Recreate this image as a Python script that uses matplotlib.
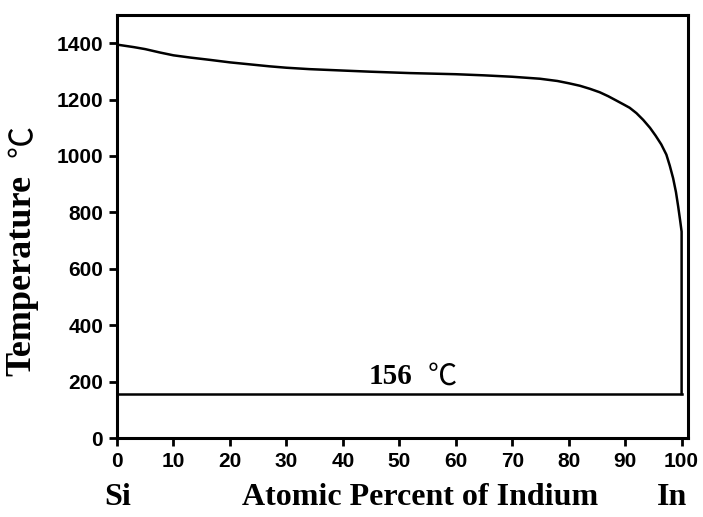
import matplotlib
matplotlib.use("Agg")
import matplotlib.pyplot as plt

# Liquidus curve (Si-In)
liq_x = [0, 3, 5, 7.6, 10, 13, 16.4, 20, 23.5, 27, 30, 34.1, 40, 44.8, 51.9, 56, 60,
         65, 70, 74.9, 78, 80, 82, 83.8, 85.5, 87, 88.5, 89.8, 90.8, 92, 93.2,
         94.4, 95.4, 96.4, 97.3, 97.9, 98.5, 99.0, 99.4, 99.75, 100.0, 100.0]
liq_t = [1395, 1386, 1379, 1367, 1357, 1349, 1341, 1332, 1325, 1318, 1313, 1308,
         1303, 1299, 1294, 1292, 1290, 1286, 1281, 1274, 1266, 1258, 1249, 1238,
         1226, 1212, 1196, 1182, 1171, 1152, 1128, 1100, 1072, 1041, 1005, 966,
         921, 872, 820, 770, 732, 156]
eut_x = [0, 100]
eut_t = [156, 156]

xticks = list(range(0, 101, 10))
yticks = list(range(0, 1401, 200))

fig = plt.figure(figsize=(7.03, 5.17), dpi=100)
ax = fig.add_axes([0.1664, 0.1528, 0.812, 0.8182])
ax.plot(liq_x, liq_t, color="black", lw=1.8, solid_joinstyle="round")
ax.plot(eut_x, eut_t, color="black", lw=1.8)
ax.set_xlim(0, 101.1)
ax.set_ylim(0, 1500)
ax.set_xticks(xticks)
ax.set_yticks(yticks)
for s in ax.spines.values():
    s.set_linewidth(2.2)
ax.tick_params(width=2, length=6, direction="out", pad=4)
for lab in ax.get_xticklabels() + ax.get_yticklabels():
    lab.set_family("Liberation Sans")
    lab.set_fontweight("bold")
    lab.set_fontsize(15)

serif = "Liberation Serif"
cjk = ["Noto Sans CJK SC", "DejaVu Sans"]
ax.text(44.6, 190, "156", family=serif, fontweight="bold", fontsize=21,
        ha="left", va="baseline")
ax.text(55.0, 190, "℃", family=cjk, fontweight="light",
        fontsize=21, ha="left", va="baseline")

fig.text(118/703, 1-505/517, "Si", family=serif, fontweight="bold", fontsize=23,
         ha="center", va="baseline")
fig.text(420/703, 1-505/517, "Atomic Percent of Indium", family=serif, fontweight="bold",
         fontsize=23, ha="center", va="baseline")
fig.text(672/703, 1-505/517, "In", family=serif, fontweight="bold", fontsize=23,
         ha="center", va="baseline")

fig.text(38/703, 1-275/517, "Temperature", family=serif, fontweight="bold", fontsize=26,
         rotation=90, ha="right", va="center")
fig.text(39/703, 1-141/517, "℃", family=cjk, fontweight="light",
         fontsize=23, rotation=90, ha="right", va="center")

fig.savefig("out.png", dpi=100)
